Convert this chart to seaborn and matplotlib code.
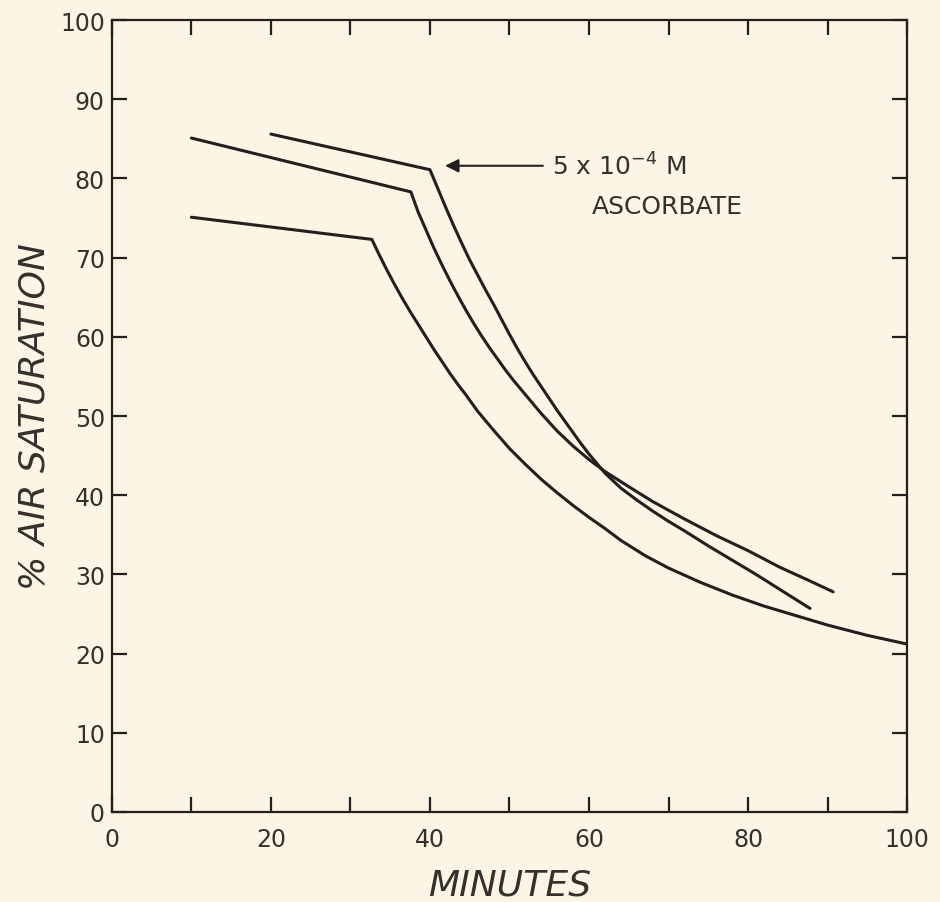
import numpy as np
import pandas as pd
import matplotlib
matplotlib.use("Agg")
import matplotlib.pyplot as plt
import seaborn as sns
from matplotlib.ticker import MultipleLocator

# Curves (minutes, % air saturation)
upperX = [20.0, 40.0, 41.0, 42.0, 43.0, 44.0, 45.0, 46.0, 47.0, 48.0, 49.0, 50.0,
          51.0, 52.0, 53.0, 54.0, 55.0, 56.0, 57.0, 58.0, 59.0, 60.0, 62.0, 64.0,
          66.0, 68.0, 70.0, 72.0, 75.0, 78.0, 81.0, 84.0, 87.8]
upperY = [85.6, 81.1, 78.7, 76.3, 74.0, 71.8, 69.7, 67.8, 65.9, 64.1, 62.2, 60.3,
          58.5, 56.8, 55.2, 53.7, 52.2, 50.7, 49.3, 47.9, 46.5, 45.2, 42.8, 40.9,
          39.4, 38.0, 36.7, 35.5, 33.6, 31.8, 30.0, 28.1, 25.7]

middleX = [10.0, 37.6, 38.5, 39.5, 40.5, 41.5, 42.5, 43.5, 44.5, 45.5, 46.5, 47.5,
           48.5, 49.5, 50.5, 52.0, 54.0, 56.0, 58.0, 60.0, 62.0, 64.8, 68.0, 72.0,
           76.0, 80.0, 84.0, 87.5, 90.7]
middleY = [85.1, 78.3, 75.8, 73.5, 71.2, 69.1, 67.1, 65.2, 63.4, 61.7, 60.1, 58.6,
           57.2, 55.8, 54.5, 52.7, 50.3, 48.1, 46.2, 44.5, 43.0, 41.2, 39.2, 37.0,
           34.9, 33.0, 30.9, 29.3, 27.8]

lowerX = [10.0, 32.7, 33.5, 34.5, 35.5, 36.5, 37.5, 38.5, 39.5, 40.5, 41.5, 42.5,
          43.5, 44.5, 46.0, 48.0, 50.0, 52.0, 54.0, 56.0, 58.0, 60.0, 62.0, 64.0,
          67.0, 70.0, 74.0, 78.0, 82.0, 86.0, 90.0, 95.0, 100.0]
lowerY = [75.1, 72.3, 70.6, 68.6, 66.7, 64.9, 63.2, 61.6, 60.0, 58.4, 56.9, 55.4,
          54.0, 52.7, 50.6, 48.2, 45.9, 43.9, 42.0, 40.3, 38.7, 37.2, 35.8, 34.3,
          32.4, 30.8, 29.0, 27.4, 26.0, 24.8, 23.6, 22.3, 21.2]

xTickLabels = [0, 20, 40, 60, 80, 100]
yTickLabels = [0, 10, 20, 30, 40, 50, 60, 70, 80, 90, 100]

arrowTip = (41.9, 81.6)
arrowTail = (54.2, 81.6)

bg = "#fcf5e6"
ink = "#231f1c"
textInk = "#34302c"

df = pd.concat([
    pd.DataFrame({"minutes": upperX, "sat": upperY, "curve": "upper"}),
    pd.DataFrame({"minutes": middleX, "sat": middleY, "curve": "middle"}),
    pd.DataFrame({"minutes": lowerX, "sat": lowerY, "curve": "lower"}),
])

sns.set_style("ticks")
plt.rcParams["font.family"] = ["DejaVu Sans"]
plt.rcParams["mathtext.default"] = "regular"

fig = plt.figure(figsize=(9.4, 9.03), dpi=100, facecolor=bg)
ax = fig.add_axes([0.119, 0.0997, 0.846, 0.877])
ax.set_facecolor(bg)

sns.lineplot(data=df, x="minutes", y="sat", units="curve", estimator=None,
             sort=False, color=ink, linewidth=2.2, ax=ax)

ax.set_xlim(0, 100)
ax.set_ylim(0, 100)
ax.set_xticks(xTickLabels)
ax.set_yticks(yTickLabels)
ax.xaxis.set_minor_locator(MultipleLocator(10))

for side in ["left", "right", "top", "bottom"]:
    ax.spines[side].set_visible(True)
    ax.spines[side].set_color(ink)
    ax.spines[side].set_linewidth(1.6)

ax.tick_params(axis="both", which="both", direction="in", length=11, width=1.6,
               color=ink, top=True, right=True, labelcolor=textInk,
               labelsize=17)
ax.tick_params(axis="x", which="major", pad=11)
ax.tick_params(axis="y", which="major", pad=5)

ax.set_xlabel("MINUTES", fontsize=26, style="italic", color=textInk, labelpad=12)
ax.set_ylabel("% AIR SATURATION", fontsize=26, style="italic", color=textInk,
              labelpad=6)

ax.annotate("", xy=arrowTip, xytext=arrowTail,
            arrowprops=dict(arrowstyle="-|>", color=ink, lw=1.5,
                            mutation_scale=20, shrinkA=0, shrinkB=0))
ax.text(55.3, 81.6, "5 x 10$^{-4}$ M", fontsize=18, color=textInk,
        va="center", ha="left")
ax.text(60.4, 76.5, "ASCORBATE", fontsize=18, color=textInk,
        va="center", ha="left")

fig.savefig("out.png", dpi=100, facecolor=bg)
